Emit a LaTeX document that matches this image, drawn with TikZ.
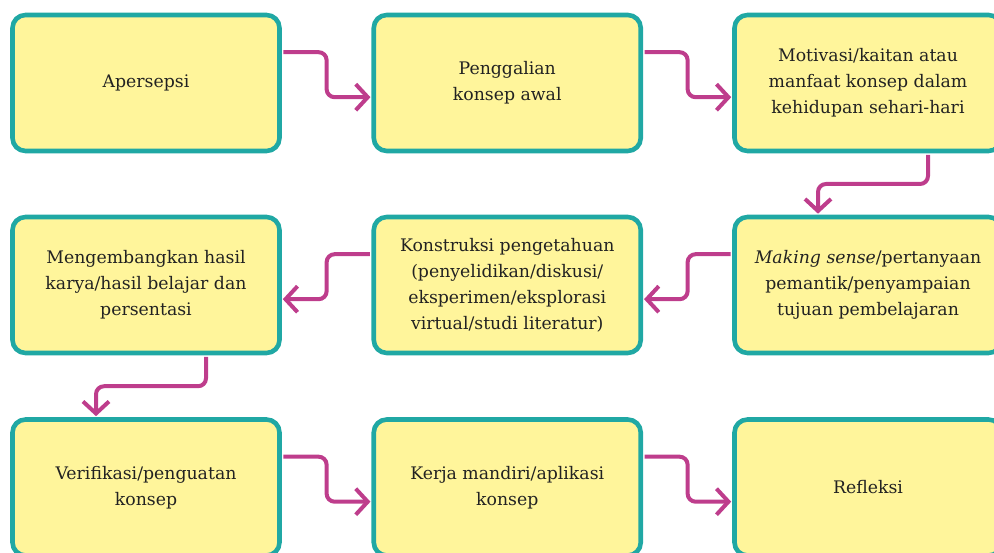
\documentclass[tikz,border=0pt]{standalone}
\usepackage{fontspec}
\setmainfont{DejaVu Serif}
\usetikzlibrary{arrows.meta,calc}
\definecolor{boxfill}{HTML}{FFF59B}
\definecolor{boxline}{HTML}{20A8A4}
\definecolor{arrcol}{HTML}{BE3D8C}
\definecolor{txt}{HTML}{222222}
\tikzset{
  stepbox/.style={draw=boxline, fill=boxfill, line width=4.6pt, rounded corners=13pt,
    minimum width=267pt, minimum height=136pt, inner sep=0pt, align=center,
    text=txt, font=\fontsize{17.3}{26}\selectfont},
  arr/.style={draw=arrcol, line width=4pt, rounded corners=8pt,
    -{Straight Barb[length=12pt,width=26pt,line width=4pt]}, shorten >=1pt, shorten <=1.5pt}
}
\begin{document}
\begin{tikzpicture}[x=1pt,y=-1pt]
\useasboundingbox (0,0) rectangle (994,553);
\clip (0,0) rectangle (994,553);
% row 1
\node[stepbox] (A1) at (146,83) {Apersepsi};
\node[stepbox] (A2) at (507.25,83) {Penggalian\\konsep awal};
\node[stepbox] (A3) at (868,83) {Motivasi/kaitan atau\\manfaat konsep dalam\\kehidupan sehari-hari};
% row 2
\node[stepbox] (B1) at (146,285) {Mengembangkan hasil\\karya/hasil belajar dan\\persentasi};
\node[stepbox] (B2) at (507.25,285) {Konstruksi pengetahuan\\(penyelidikan/diskusi/\\eksperimen/eksplorasi\\virtual/studi literatur)};
\node[stepbox] (B3) at (868,285) {\textit{Making sense}/pertanyaan\\pemantik/penyampaian\\tujuan pembelajaran};
% row 3
\node[stepbox] (C1) at (146,487.5) {Verifikasi/penguatan\\konsep};
\node[stepbox] (C2) at (507.25,487.5) {Kerja mandiri/aplikasi\\konsep};
\node[stepbox] (C3) at (868,487.5) {Refleksi};
% horizontal connectors (rightward)
\foreach \s/\e in {A1/A2, A2/A3, C1/C2, C2/C3}{
  \path ([yshift=-39.5pt]\s.north east) coordinate (p) ([yshift=-84.5pt]\e.north west) coordinate (q);
  \draw[arr] (p) -| ($(p)!0.5!(q)$) |- (q);
}
% horizontal connectors (leftward)
\foreach \s/\e in {B3/B2, B2/B1}{
  \path ([yshift=-39.5pt]\s.north west) coordinate (p) ([yshift=-84.5pt]\e.north east) coordinate (q);
  \draw[arr] (p) -| ($(p)!0.5!(q)$) |- (q);
}
% vertical connectors
\foreach \s/\e in {A3/B3, B1/C1}{
  \path ([xshift=60pt]\s.south) coordinate (p) ([xshift=-50pt]\e.north) coordinate (q);
  \draw[arr] (p) |- ($(p)!0.5!(q)$) -| (q);
}
\end{tikzpicture}
\end{document}
